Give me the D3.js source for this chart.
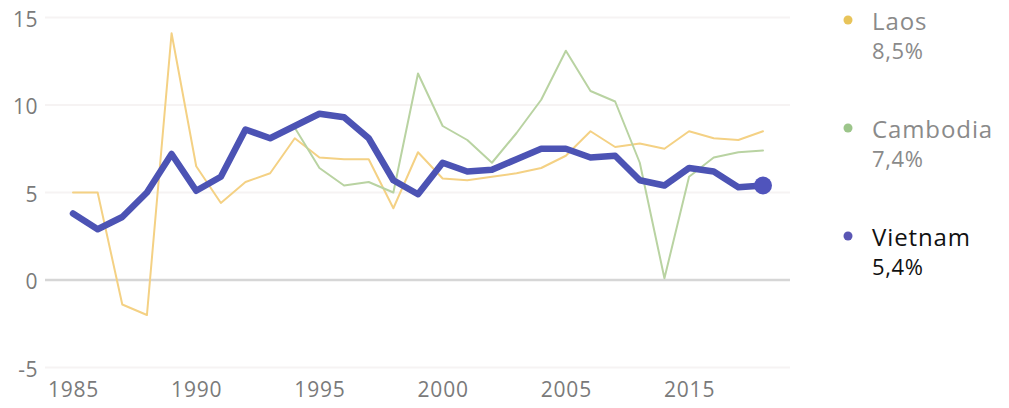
<!DOCTYPE html>
<html>
<head>
<meta charset="utf-8">
<script src="https://cdn.jsdelivr.net/npm/d3@7"></script>
<style>
  body { margin: 0; background: #fff; }
  svg { display: block; font-family: "Open Sans", sans-serif; }
</style>
</head>
<body>
<svg width="1009" height="408"></svg>
<script>
// GDP growth, %, 1985-2013
var years = [1985, 1986, 1987, 1988, 1989, 1990, 1991, 1992, 1993, 1994,
             1995, 1996, 1997, 1998, 1999, 2000, 2001, 2002, 2003, 2004,
             2005, 2006, 2007, 2008, 2009, 2010, 2011, 2012, 2013];

var laos = [5.0, 5.0, -1.4, -2.0, 14.1, 6.5, 4.4, 5.6, 6.1, 8.1,
            7.0, 6.9, 6.9, 4.1, 7.3, 5.8, 5.7, 5.9, 6.1, 6.4,
            7.1, 8.5, 7.6, 7.8, 7.5, 8.5, 8.1, 8.0, 8.5];

var cambodia = [null, null, null, null, null, null, null, null, null, 8.7,
                6.4, 5.4, 5.6, 5.0, 11.8, 8.8, 8.0, 6.7, 8.4, 10.3,
                13.1, 10.8, 10.2, 6.7, 0.1, 5.9, 7.0, 7.3, 7.4];

var vietnam = [3.8, 2.9, 3.6, 5.0, 7.2, 5.1, 5.9, 8.6, 8.1, 8.8,
               9.5, 9.3, 8.1, 5.7, 4.9, 6.7, 6.2, 6.3, 6.9, 7.5,
               7.5, 7.0, 7.1, 5.7, 5.4, 6.4, 6.2, 5.3, 5.4];

var xTickValues = [1985, 1990, 1995, 2000, 2005, 2010];
var xTickLabels = ["1985", "1990", "1995", "2000", "2005", "2015"];
var yTickValues = [-5, 0, 5, 10, 15];
var yTickLabels = ["-5", "0", "5", "10", "15"];

var seriesNames = ["Laos", "Cambodia", "Vietnam"];
var seriesLabels = ["8,5%", "7,4%", "5,4%"];

var svg = d3.select("svg");

var x = d3.scaleLinear().domain([1985, 2013]).range([73, 763]);
var y = d3.scaleLinear().domain([-5, 15]).range([367.5, 17.5]);

// grid
svg.append("g")
    .selectAll("line")
    .data(yTickValues.filter(function (d) { return d !== 0; }))
    .enter()
    .append("line")
    .attr("x1", 45).attr("x2", 790)
    .attr("y1", function (d) { return y(d); })
    .attr("y2", function (d) { return y(d); })
    .style("stroke", "#f6f3f3")
    .style("stroke-width", 2);

svg.append("line")
    .attr("x1", 45).attr("x2", 790)
    .attr("y1", y(0)).attr("y2", y(0))
    .style("stroke", "#d6d6d6")
    .style("stroke-width", 2.5);

// axes
var yAxis = d3.axisLeft(y).tickValues(yTickValues).tickSize(0).tickPadding(0)
    .tickFormat(function (d, i) { return yTickLabels[i]; });
svg.append("g")
    .attr("transform", "translate(38,2)")
    .call(yAxis)
    .call(function (g) { g.select(".domain").remove(); })
    .selectAll("text")
    .style("font-size", "21px")
    .style("letter-spacing", "0.5px")
    .style("fill", "#7a7a7a")
    .style("font-family", "Open Sans, sans-serif");

var xAxis = d3.axisBottom(x).tickValues(xTickValues).tickSize(0).tickPadding(0)
    .tickFormat(function (d, i) { return xTickLabels[i]; });
svg.append("g")
    .attr("transform", "translate(0,382)")
    .call(xAxis)
    .call(function (g) { g.select(".domain").remove(); })
    .selectAll("text")
    .style("font-size", "21px")
    .style("letter-spacing", "0.8px")
    .style("fill", "#7a7a7a")
    .style("font-family", "Open Sans, sans-serif");

var line = d3.line()
    .defined(function (d) { return d.v !== null; })
    .x(function (d) { return x(d.year); })
    .y(function (d) { return y(d.v); });

function rows(values) {
    return years.map(function (yr, i) { return { year: yr, v: values[i] }; });
}

var series = [
    { name: "Laos", values: laos, color: "#f4d184", width: 2 },
    { name: "Cambodia", values: cambodia, color: "#b9d3a2", width: 2 },
    { name: "Vietnam", values: vietnam, color: "#4c53b4", width: 6.5 }
];

svg.append("g")
    .selectAll("path")
    .data(series)
    .enter()
    .append("path")
    .attr("d", function (d) { return line(rows(d.values)); })
    .style("fill", "none")
    .style("stroke", function (d) { return d.color; })
    .style("stroke-width", function (d) { return d.width; })
    .style("stroke-linejoin", "round")
    .style("stroke-linecap", "round");

// end dot of Vietnam
var last = years.length - 1;
svg.append("circle")
    .attr("cx", x(years[last]))
    .attr("cy", y(vietnam[last]))
    .attr("r", 9)
    .style("fill", "#5054bc");

// legend
var legendColors = ["#e8c45a", "#9cc58a", "#5a56b4"];
var legendText = ["#8a8a8a", "#8a8a8a", "#111111"];
var legend = svg.append("g")
    .selectAll("g")
    .data(seriesNames)
    .enter()
    .append("g")
    .attr("transform", function (d, i) { return "translate(0," + (i * 108) + ")"; });

legend.append("circle")
    .attr("cx", 848).attr("cy", 20).attr("r", 4.5)
    .style("fill", function (d, i) { return legendColors[i]; });

legend.append("text")
    .attr("x", 872).attr("y", 30)
    .text(function (d) { return d; })
    .style("font-size", "24px")
    .style("letter-spacing", "0.9px")
    .style("fill", function (d, i) { return legendText[i]; });

legend.append("text")
    .attr("x", 872).attr("y", 59)
    .text(function (d, i) { return seriesLabels[i]; })
    .style("font-size", "22px")
    .style("letter-spacing", "0.6px")
    .style("fill", function (d, i) { return legendText[i]; });
</script>
</body>
</html>
